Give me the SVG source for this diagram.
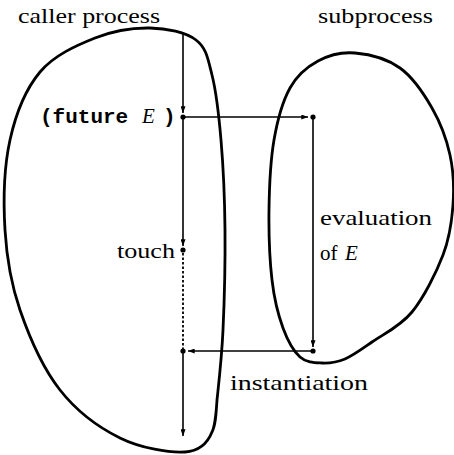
<svg xmlns="http://www.w3.org/2000/svg" width="454" height="455" viewBox="0 0 454 455">
  <style>
    .blob { fill: none; stroke: #000; stroke-width: 2.8; stroke-linejoin: round; }
    .line { fill: none; stroke: #000; stroke-width: 1.6; }
    .dash { fill: none; stroke: #000; stroke-width: 1.8; stroke-dasharray: 2.5 2; }
    .dot { fill: #000; }
    .lbl { font-family: "Liberation Serif", "DejaVu Serif", serif; font-size: 21px; fill: #000; }
    .mono { font-family: "Liberation Mono", "DejaVu Sans Mono", monospace; font-size: 21px; font-weight: bold; fill: #000; }
    .it { font-family: "Liberation Serif", "DejaVu Serif", serif; font-style: italic; font-weight: normal; }
  </style>
  <defs>
    <marker id="arr" viewBox="0 0 8 6" refX="8" refY="3" markerWidth="7" markerHeight="5" markerUnits="userSpaceOnUse" orient="auto">
      <path d="M0,0 L8,3 L0,6 z" fill="#000"/>
    </marker>
  </defs>
  <rect width="454" height="455" fill="#fff"/>

  <g id="caller-process">
    <path class="blob" d="M150,28 C166.8,28.3 185.7,32.2 196,40 C206.3,47.8 207.8,58.3 212,75 C216.2,91.7 218.8,114.2 221,140 C223.2,165.8 224.7,198.3 225,230 C225.3,261.7 224.3,301.7 223,330 C221.7,358.3 218.8,383 217,400 C216,415 215.5,425 212,432 C208,442 200.3,451 185,452 C169.7,453 140.8,448.3 120,438 C99.2,427.7 76.7,411.3 60,390 C43.3,368.7 29.2,336.7 20,310 C10.8,283.3 6.7,258.3 5,230 C3.3,201.7 4.2,166.3 10,140 C15.8,113.7 25.8,89 40,72 C54.2,55 76.7,45.3 95,38 C113.3,30.7 133.2,27.7 150,28 Z"/>
    <text class="lbl" x="18" y="23" textLength="142" lengthAdjust="spacingAndGlyphs">caller process</text>
  </g>

  <g id="subprocess">
    <path class="blob" d="M355,53 C368.7,54.2 387.2,58.8 400,68 C412.8,77.2 423.7,93.5 432,108 C440.3,122.5 446.5,138.8 450,155 C453.5,171.2 454.2,188.3 453,205 C451.8,221.7 449.8,237.2 443,255 C436.2,272.8 423.8,297.5 412,312 C400.2,326.5 383.2,334.2 372,342 C360.8,349.8 353.3,355.5 345,359 C336.7,362.5 329.5,363.3 322,363 C314.5,362.7 306.5,362.8 300,357 C293.5,351.2 287.7,340.8 283,328 C278.3,315.2 274.3,299.7 272,280 C269.7,260.3 268.7,233.3 269,210 C269.3,186.7 270.5,160.3 274,140 C277.5,119.7 282.7,101.2 290,88 C297.3,74.8 307.2,66.8 318,61 C328.8,55.2 341.3,51.8 355,53 Z"/>
    <text class="lbl" x="318" y="23" textLength="115" lengthAdjust="spacingAndGlyphs">subprocess</text>
  </g>

  <g id="connectors">
    <line class="line" x1="183" y1="33" x2="183" y2="113" marker-end="url(#arr)"/>
    <line class="line" x1="183" y1="117" x2="308" y2="117" marker-end="url(#arr)"/>
    <line class="line" x1="313" y1="117" x2="313" y2="347" marker-end="url(#arr)"/>
    <line class="line" x1="313" y1="351" x2="188" y2="351" marker-end="url(#arr)"/>
    <line class="line" x1="183" y1="117" x2="183" y2="246" marker-end="url(#arr)"/>
    <line class="dash" x1="183" y1="253" x2="183" y2="349"/>
    <line class="line" x1="183" y1="351" x2="183" y2="436" marker-end="url(#arr)"/>
  </g>

  <g id="future-call">
    <circle class="dot" cx="183" cy="117" r="2.6"/>
    <text class="mono" x="40" y="123">(future<tspan class="it" x="142">E</tspan><tspan x="163">)</tspan></text>
  </g>

  <g id="evaluation-start">
    <circle class="dot" cx="313" cy="117" r="2.6"/>
  </g>

  <g id="evaluation">
    <circle class="dot" cx="313" cy="351" r="2.6"/>
    <text class="lbl" x="320" y="225" textLength="112" lengthAdjust="spacingAndGlyphs">evaluation</text>
    <text class="lbl" x="320" y="260">of <tspan class="it" x="345">E</tspan></text>
  </g>

  <g id="touch">
    <circle class="dot" cx="183" cy="250" r="2.6"/>
    <text class="lbl" x="117" y="258" textLength="58" lengthAdjust="spacingAndGlyphs">touch</text>
  </g>

  <g id="instantiation">
    <circle class="dot" cx="183" cy="351" r="2.6"/>
    <text class="lbl" x="230" y="390" textLength="138" lengthAdjust="spacingAndGlyphs">instantiation</text>
  </g>
</svg>
